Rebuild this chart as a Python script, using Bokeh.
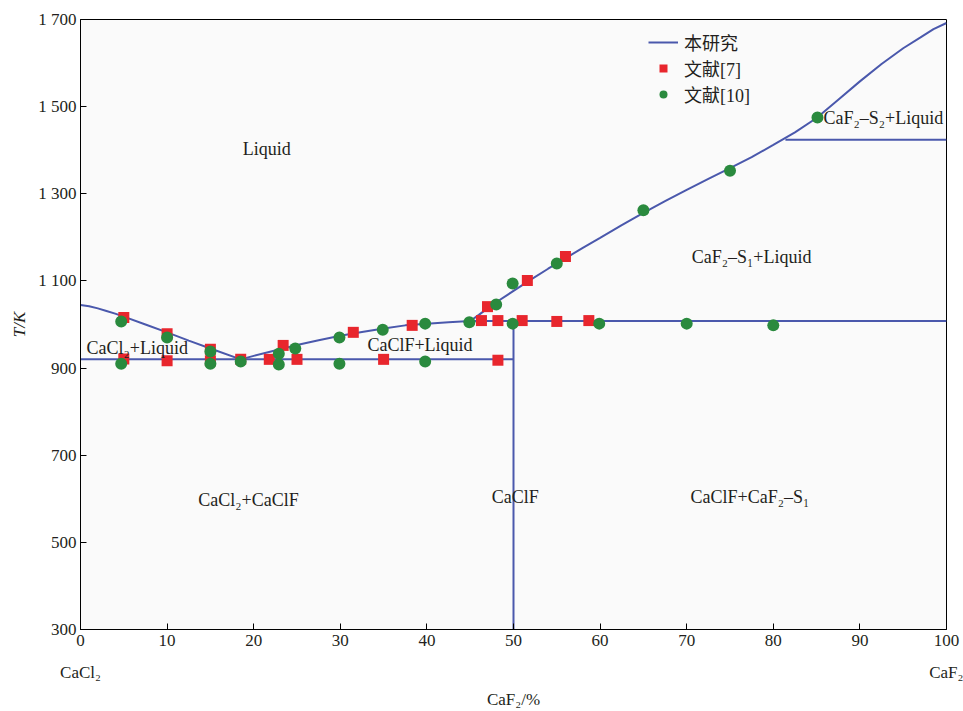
import numpy as np
from bokeh.plotting import figure
from bokeh.models import (ColumnDataSource, FixedTicker, Legend, LegendItem,
                          LinearAxis, Range1d)
from bokeh.core.properties import value
from bokeh.embed import file_html
from bokeh.resources import INLINE

# ---- data: this study (calculated phase boundaries) ----
liq_cacl2_x = [0, 1, 2, 3, 4, 5, 7.5, 10, 12.5, 15, 18.5]
liq_cacl2_T = [1045, 1042, 1037, 1031, 1025, 1018, 1000, 982, 963, 945, 920]

liq_caclf_x = [18.5, 20, 22, 25, 27.5, 30, 32.5, 35, 37.5, 40, 42.5, 45]
liq_caclf_T = [920, 928, 938, 953, 964, 974, 983, 991, 998, 1002, 1005, 1008]

liq_caf2_x = [45, 46, 47, 48, 50, 52, 54, 56, 58, 60, 62.5, 65, 67.5, 70, 72.5,
              75, 77.5, 80, 82.5, 85, 87.5, 90, 92.5, 95, 97, 98.5, 100]
liq_caf2_T = [1008, 1022, 1037, 1051, 1077, 1103, 1128, 1152, 1176, 1199, 1228,
              1256, 1283, 1309, 1334, 1359, 1384, 1412, 1441, 1474, 1516, 1558,
              1598, 1634, 1659, 1678, 1692]

eut_x, eut_T = [0, 50], [920, 920]
per_x, per_T = [45, 100], [1008, 1008]
caclf_x, caclf_T = [50, 50], [1008, 300]
trans_x, trans_T = [81.4, 100], [1424, 1424]

# ---- data: literature [7] ----
ref7_x = [5, 5, 10, 10, 15, 15, 18.5, 21.8, 23.4, 25, 31.5, 35, 38.3, 46.3,
          48.2, 48.2, 51.0, 55.0, 58.7, 47.0, 51.6, 56.0]
ref7_T = [1016, 921, 979, 917, 943, 917, 920, 920, 952, 920, 982, 920, 998,
          1009, 1009, 918, 1009, 1007, 1009, 1041, 1101, 1156]

# ---- data: literature [10] ----
ref10_x = [4.7, 4.7, 10, 15, 15, 18.5, 22.9, 22.9, 24.8, 29.9, 29.9, 34.9,
           39.8, 39.8, 44.9, 48.0, 49.9, 49.9, 55, 59.9, 65, 70, 75, 80, 85.1]
ref10_T = [1007, 910, 970, 938, 910, 915, 933, 908, 945, 970, 910, 988, 1002,
           915, 1005, 1046, 1094, 1002, 1140, 1002, 1262, 1002, 1353, 998, 1475]

x_ticks = [0, 10, 20, 30, 40, 50, 60, 70, 80, 90, 100]
y_ticks = [300, 500, 700, 900, 1100, 1300, 1500, 1700]
y_tick_labels = ["300", "500", "700", "900", "1 100", "1 300", "1 500", "1 700"]
end_ticks = [0, 100]
end_labels = ["CaCl\u2082", "CaF\u2082"]

region_text = ["Liquid", "CaCl\u2082+Liquid", "CaClF+Liquid", "CaF\u2082\u2013S\u2081+Liquid",
               "CaF\u2082\u2013S\u2082+Liquid", "CaCl\u2082+CaClF", "CaClF",
               "CaClF+CaF\u2082\u2013S\u2081"]
region_x = [21.5, 0.7, 39.2, 77.5, 85.8, 19.4, 50.2, 77.3]
region_y = [1402, 947, 952, 1156, 1473, 598, 605, 605]
region_align = ["center", "left", "center", "center", "left", "center", "center", "center"]

BLUE = "#4a58ac"
RED = "#e8262d"
GREEN = "#2a8a3e"
SERIF = "Liberation Serif"
TXT = "#231f20"

p = figure(width=963, height=711, x_range=Range1d(0, 100), y_range=Range1d(300, 1700),
           output_backend="svg", toolbar_location=None,
           min_border_left=80, min_border_right=17, min_border_top=19, min_border_bottom=82)
p.background_fill_color = "#fafafa"
p.border_fill_color = "white"
p.outline_line_color = "black"
p.outline_line_width = 1
p.xgrid.visible = False
p.ygrid.visible = False

r_line = p.line(liq_cacl2_x, liq_cacl2_T, line_color=BLUE, line_width=2)
for xs, ys in [(liq_caclf_x, liq_caclf_T), (liq_caf2_x, liq_caf2_T), (eut_x, eut_T),
               (per_x, per_T), (caclf_x, caclf_T), (trans_x, trans_T)]:
    p.line(xs, ys, line_color=BLUE, line_width=2)

r7 = p.scatter(ref7_x, ref7_T, marker="square", size=11, fill_color=RED, line_color=None)
r10 = p.scatter(ref10_x, ref10_T, marker="circle", size=12, fill_color=GREEN, line_color=None)

src = ColumnDataSource(dict(x=region_x, y=region_y, t=region_text, a=region_align))
p.text(x="x", y="y", text="t", text_align="a", text_baseline="middle", source=src,
       text_font=value(SERIF), text_font_size="18px", text_color=TXT)

# axes
xa = p.xaxis[0]
xa.ticker = FixedTicker(ticks=x_ticks)
xa.major_tick_in = 6
xa.major_tick_out = 0
xa.minor_tick_line_color = None
xa.axis_line_color = "black"
xa.major_tick_line_color = "black"
xa.major_label_text_font = SERIF
xa.major_label_text_font_size = "17px"
xa.major_label_text_color = TXT
xa.major_label_standoff = 5

xa2 = LinearAxis(ticker=FixedTicker(ticks=end_ticks),
                 major_label_overrides={t: l for t, l in zip(end_ticks, end_labels)})
xa2.axis_line_color = None
xa2.major_tick_line_color = None
xa2.minor_tick_line_color = None
xa2.major_tick_in = 0
xa2.major_tick_out = 0
xa2.major_label_text_font = SERIF
xa2.major_label_text_font_size = "17px"
xa2.major_label_text_color = TXT
xa2.major_label_standoff = 14
xa2.axis_label = "CaF\u2082/%"
xa2.axis_label_text_font = SERIF
xa2.axis_label_text_font_size = "17px"
xa2.axis_label_text_font_style = "normal"
xa2.axis_label_text_color = TXT
xa2.axis_label_standoff = 5
p.add_layout(xa2, "below")

ya = p.yaxis[0]
ya.ticker = FixedTicker(ticks=y_ticks)
ya.major_label_overrides = {t: l for t, l in zip(y_ticks, y_tick_labels)}
ya.major_tick_in = 6
ya.major_tick_out = 0
ya.minor_tick_line_color = None
ya.axis_line_color = "black"
ya.major_tick_line_color = "black"
ya.major_label_text_font = SERIF
ya.major_label_text_font_size = "17px"
ya.major_label_text_color = TXT
ya.major_label_standoff = 4
ya.axis_label = "T/K"
ya.axis_label_text_font = SERIF
ya.axis_label_text_font_size = "17px"
ya.axis_label_text_font_style = "italic"
ya.axis_label_text_color = TXT
ya.axis_label_standoff = 6

legend = Legend(items=[LegendItem(label="本研究", renderers=[r_line]),
                       LegendItem(label="文献[7]", renderers=[r7]),
                       LegendItem(label="文献[10]", renderers=[r10])],
                location=(568, 522), orientation="vertical")
legend.background_fill_alpha = 0
legend.border_line_alpha = 0
legend.padding = 0
legend.margin = 0
legend.spacing = -7
legend.glyph_width = 30
legend.glyph_height = 20
legend.label_height = 20
legend.label_standoff = 6
legend.label_text_font = "'Liberation Serif', 'Noto Sans CJK SC'"
legend.label_text_font_size = "18px"
legend.label_text_color = TXT
p.add_layout(legend)

open("out.html", "w").write(file_html(p, INLINE))
